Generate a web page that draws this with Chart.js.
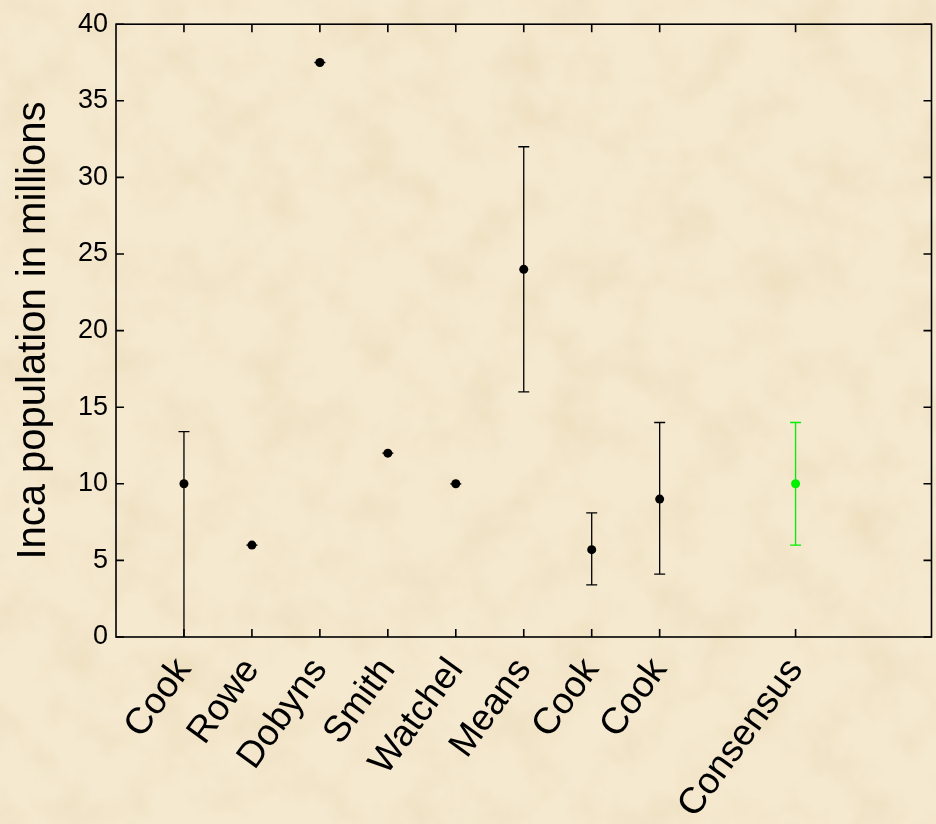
<!DOCTYPE html>
<html>
<head>
<meta charset="utf-8">
<script src="https://cdn.jsdelivr.net/npm/chart.js@4.4.1/dist/chart.umd.min.js"></script>
<style>
html, body { margin: 0; padding: 0; }
body {
  width: 936px; height: 824px; overflow: hidden;
  background-color: #f5e9d0;
  background-image:
    url("data:image/svg+xml;utf8,<svg xmlns='http://www.w3.org/2000/svg' width='936' height='824'><filter id='n'><feTurbulence type='fractalNoise' baseFrequency='0.02' numOctaves='4' seed='7'/><feColorMatrix values='0 0 0 0 0.82  0 0 0 0 0.68  0 0 0 0 0.44  1.0 0 0 0 -0.40'/></filter><rect width='100%' height='100%' filter='url(%23n)'/></svg>");
}
#wrap { position: relative; width: 936px; height: 824px; }
</style>
</head>
<body>
<div id="wrap"><canvas id="incaChart" width="936" height="824"></canvas></div>
<script>
// estimates of the Inca population (millions)
const labels = ['Cook', 'Rowe', 'Dobyns', 'Smith', 'Watchel', 'Means', 'Cook', 'Cook', 'Consensus'];
const positions = [1, 2, 3, 4, 5, 6, 7, 8, 10];
const estimates = [10, 6, 37.5, 12, 10, 24, 5.7, 9, 10];
const lowBounds = [0, 6, 37.5, 12, 10, 16, 3.4, 4.1, 6];
const highBounds = [13.4, 6, 37.5, 12, 10, 32, 8.1, 14, 14];
const pointColors = ['#000', '#000', '#000', '#000', '#000', '#000', '#000', '#000', '#00f000'];
const yTicks = [0, 5, 10, 15, 20, 25, 30, 35, 40];

const FONT = 'Liberation Sans, Arial, Helvetica, sans-serif';

// vertical error bars, drawn under the markers
const errorBars = {
  id: 'errorBars',
  beforeDatasetsDraw(chart) {
    const { ctx, scales: { x, y } } = chart;
    ctx.save();
    ctx.lineWidth = 1.3;
    positions.forEach((pos, i) => {
      const px = x.getPixelForValue(pos);
      const top = y.getPixelForValue(highBounds[i]);
      const bottom = y.getPixelForValue(lowBounds[i]);
      ctx.strokeStyle = pointColors[i];
      ctx.beginPath();
      ctx.moveTo(px, top);
      ctx.lineTo(px, bottom);
      ctx.moveTo(px - 5.5, top);
      ctx.lineTo(px + 5.5, top);
      if (lowBounds[i] > 0) {
        ctx.moveTo(px - 5.5, bottom);
        ctx.lineTo(px + 5.5, bottom);
      }
      ctx.stroke();
    });
    ctx.restore();
  }
};

// box around the axes with inward ticks on all four sides
const frameTicks = {
  id: 'frameTicks',
  afterDraw(chart) {
    const { ctx, chartArea: a, scales: { x, y } } = chart;
    ctx.save();
    ctx.strokeStyle = '#000';
    ctx.lineWidth = 1.6;
    ctx.strokeRect(a.left, a.top, a.right - a.left, a.bottom - a.top);
    ctx.beginPath();
    x.ticks.forEach(t => {
      const px = x.getPixelForValue(t.value);
      ctx.moveTo(px, a.bottom); ctx.lineTo(px, a.bottom - 8);
      ctx.moveTo(px, a.top); ctx.lineTo(px, a.top + 8);
    });
    y.ticks.forEach(t => {
      const py = y.getPixelForValue(t.value);
      ctx.moveTo(a.left, py); ctx.lineTo(a.left + 8, py);
      ctx.moveTo(a.right, py); ctx.lineTo(a.right - 8, py);
    });
    ctx.stroke();
    ctx.restore();
  }
};

new Chart(document.getElementById('incaChart'), {
  type: 'scatter',
  data: {
    datasets: [{
      data: positions.map((x, i) => ({ x, y: estimates[i] })),
      pointRadius: 4.5,
      pointHoverRadius: 4.5,
      pointBackgroundColor: pointColors,
      pointBorderColor: pointColors,
      pointBorderWidth: 0,
      showLine: false,
    }]
  },
  options: {
    responsive: false,
    animation: false,
    devicePixelRatio: 1,
    layout: { padding: { top: 22, right: 1, left: 0, bottom: 0 } },
    plugins: { legend: { display: false }, tooltip: { enabled: false } },
    scales: {
      x: {
        type: 'linear',
        min: 0,
        max: 12,
        afterBuildTicks: s => { s.ticks = positions.map(v => ({ value: v })); },
        afterFit: s => { s.height = 187; },
        grid: { display: false, drawTicks: false },
        border: { display: false },
        ticks: {
          autoSkip: false,
          minRotation: 54,
          maxRotation: 54,
          padding: 10,
          color: '#000',
          font: { family: FONT, size: 37, lineHeight: 1.5 },
          callback: v => labels[positions.indexOf(v)]
        }
      },
      y: {
        min: 0,
        max: 40,
        afterBuildTicks: s => { s.ticks = yTicks.map(v => ({ value: v })); },
        afterFit: s => { s.width = 116; },
        grid: { display: false, drawTicks: false },
        border: { display: false },
        ticks: {
          padding: 8,
          color: '#000',
          font: { family: FONT, size: 27 }
        },
        title: {
          display: true,
          text: 'Inca population in millions',
          color: '#000',
          padding: { top: 10, bottom: 0 },
          font: { family: FONT, size: 40 }
        }
      }
    }
  },
  plugins: [errorBars, frameTicks]
});
</script>
</body>
</html>
